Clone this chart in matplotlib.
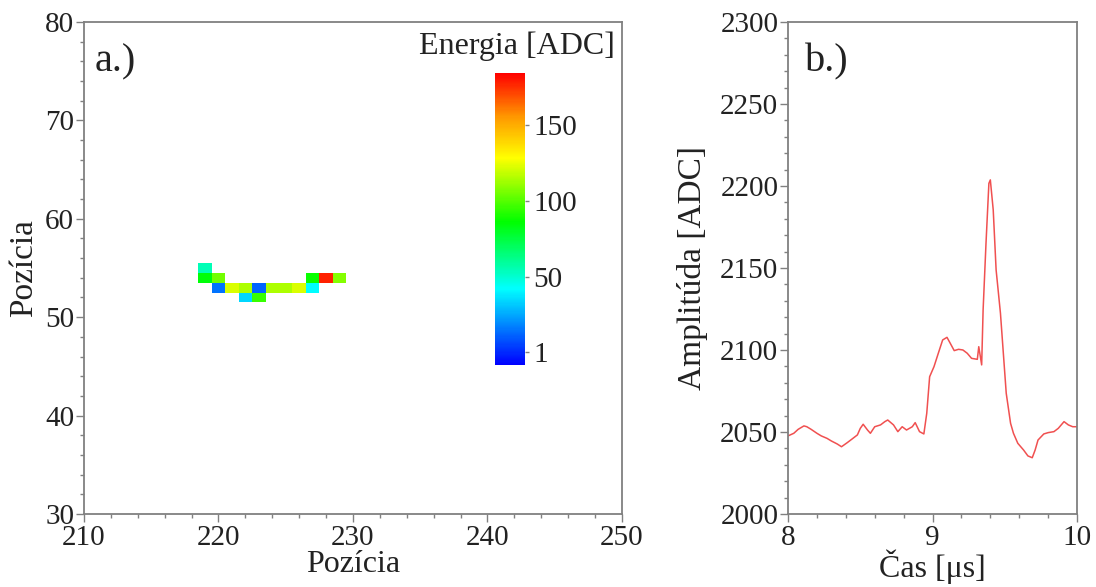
import numpy as np
import matplotlib
matplotlib.use("Agg")
import matplotlib.pyplot as plt
from matplotlib.colors import LinearSegmentedColormap
from matplotlib.ticker import MultipleLocator

plt.rcParams['font.family'] = ['Liberation Serif', 'DejaVu Serif']
plt.rcParams['font.size'] = 21

# panel a.) - hit pixels of the track
px_x = [219, 219, 220, 220, 221, 222, 223, 224, 225, 226, 227, 222, 223, 227, 228, 229]
px_y = [55, 54, 54, 53, 53, 53, 53, 53, 53, 53, 53, 52, 52, 54, 54, 54]
px_e = [55, 85, 105, 15, 122, 115, 12, 115, 115, 122, 42, 35, 95, 88, 178, 108]
cbar_ticks = [1, 50, 100, 150]

# panel b.) - waveform
t_us = [8.00, 8.04, 8.07, 8.11, 8.13, 8.16, 8.20, 8.23, 8.27, 8.30, 8.34, 8.37,
        8.41, 8.44, 8.48, 8.50, 8.52, 8.55, 8.57, 8.60, 8.64, 8.67, 8.69, 8.73,
        8.76, 8.79, 8.82, 8.86, 8.88, 8.91, 8.94, 8.96, 8.98, 9.01, 9.04, 9.07,
        9.10, 9.12, 9.15, 9.18, 9.21, 9.24, 9.27, 9.31, 9.32, 9.34, 9.35, 9.37,
        9.39, 9.40, 9.42, 9.44, 9.47, 9.49, 9.51, 9.54, 9.56, 9.59, 9.63, 9.66,
        9.69, 9.71, 9.73, 9.77, 9.80, 9.84, 9.87, 9.91, 9.94, 9.97, 10.00]
amp = [2047.6, 2049.2, 2051.6, 2053.7, 2053.2, 2051.6, 2049.2, 2047.6, 2046.1,
       2044.5, 2042.7, 2041.0, 2043.5, 2045.5, 2048.2, 2052.2, 2054.7, 2051.2,
       2049.2, 2053.2, 2054.3, 2056.3, 2057.3, 2054.3, 2050.2, 2053.2, 2051.2,
       2053.2, 2055.7, 2050.2, 2048.8, 2061.4, 2083.7, 2089.8, 2098.0, 2106.1,
       2107.7, 2104.5, 2099.6, 2100.4, 2100.0, 2098.0, 2094.9, 2094.3, 2102.0,
       2090.9, 2124.4, 2165.0, 2201.6, 2203.7, 2185.4, 2148.8, 2122.4, 2098.0,
       2073.6, 2055.3, 2049.2, 2043.1, 2039.0, 2035.4, 2034.3, 2039.0, 2045.1,
       2048.8, 2049.6, 2050.2, 2052.2, 2056.3, 2054.3, 2053.2, 2053.2]

cmap = LinearSegmentedColormap.from_list(
    "energy", [(0, "#0000ff"), (0.26, "#00ffff"), (0.49, "#00ff00"),
               (0.71, "#ffff00"), (0.85, "#ff9900"), (1, "#ff0000")])

spine_col = "#808080"
text_col = "#222222"
fig = plt.figure(figsize=(10.96, 5.87), dpi=100)
ax1 = fig.add_axes([0.0766, 0.1244, 0.4909, 0.8382])
ax2 = fig.add_axes([0.719, 0.1244, 0.2637, 0.8382])
cax = fig.add_axes([0.4516, 0.3782, 0.0274, 0.4974])

# build grid from pixel lists
xe = np.arange(209.5, 251.5, 1)
ye = np.arange(29.5, 81.5, 1)
grid = np.full((len(ye) - 1, len(xe) - 1), np.nan)
for x, y, e in zip(px_x, px_y, px_e):
    grid[y - 30, x - 210] = e
mesh = ax1.pcolormesh(xe, ye, np.ma.masked_invalid(grid), cmap=cmap, vmin=-7.5, vmax=184)
ax1.set_xlim(210, 250)
ax1.set_ylim(30, 80)
ax1.set_xticks([210, 220, 230, 240, 250])
ax1.set_yticks([30, 40, 50, 60, 70, 80])
ax1.xaxis.set_minor_locator(MultipleLocator(2))
ax1.yaxis.set_minor_locator(MultipleLocator(2))
ax1.set_xlabel("Pozícia", labelpad=-1, fontsize=23, color=text_col)
ax1.set_ylabel("Pozícia", labelpad=4, fontsize=24, color=text_col)
ax1.text(0.02, 0.9, "a.)", transform=ax1.transAxes, fontsize=29, color=text_col)

cb = fig.colorbar(mesh, cax=cax, ticks=cbar_ticks)
cb.outline.set_visible(False)
cax.tick_params(length=3, width=1, color=spine_col, pad=3, labelsize=21, labelcolor=text_col)
fig.text(0.561, 0.908, "Energia [ADC]", ha="right", fontsize=23, color=text_col)

ax2.plot(t_us, amp, color="#f05050", lw=1.1)
ax2.set_xlim(8, 10)
ax2.set_ylim(2000, 2300)
ax2.set_xticks([8, 9, 10])
ax2.set_yticks([2000, 2050, 2100, 2150, 2200, 2250, 2300])
ax2.xaxis.set_minor_locator(MultipleLocator(0.2))
ax2.yaxis.set_minor_locator(MultipleLocator(10))
ax2.set_xlabel("Čas [μs]", labelpad=-1, fontsize=23, color=text_col)
ax2.set_ylabel("Amplitúda [ADC]", labelpad=9, fontsize=24, color=text_col)
ax2.text(0.06, 0.9, "b.)", transform=ax2.transAxes, fontsize=29, color=text_col)

for ax in (ax1, ax2):
    for s in ax.spines.values():
        s.set_color(spine_col)
        s.set_linewidth(1.3)
    ax.tick_params(which="major", direction="out", length=6, width=1, color=spine_col,
                   labelsize=21, labelcolor=text_col, pad=1, top=False, right=False)
    ax.tick_params(which="minor", direction="out", length=3, width=1, color=spine_col,
                   top=False, right=False)
    ax.tick_params(axis="x", which="major", pad=2)

fig.savefig("out.png", dpi=100)
